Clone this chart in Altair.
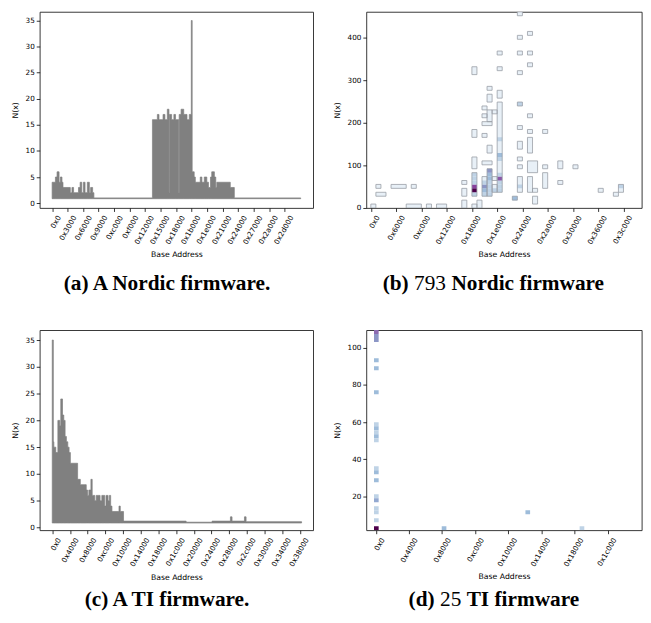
import altair as alt
import pandas as pd

FONT = "DejaVu Sans"
CAP_FONT = "Liberation Serif"

# ---------------- (a) A Nordic firmware: step profile of N(x) ----------------
a_start = [0, 2600, 3900, 5500, 6500, 7800, 8600, 14400, 15700, 17000,
           20900, 22200, 23500, 24800, 26100, 27900, 29500, 30500, 32100, 33100,
           79500, 83400, 84700, 87900, 89400, 91300, 92600, 93000, 94700, 96500,
           97800, 100300, 100700, 102200, 104300, 106900, 108700, 110300, 111000, 112600,
           113500, 117400, 118700, 120600, 122600, 123900, 125500, 126500, 128600, 129700,
           130500, 141200, 144400]
a_val = [4, 5, 6, 4, 5, 4, 3, 2, 3, 2,
         3, 4, 2, 4, 2, 4, 2, 3, 2, 1,
         16, 17, 16, 17, 16, 18, 2, 17, 16, 17,
         16, 2, 17, 18, 17, 16, 17, 35, 6, 5,
         4, 5, 4, 5, 4, 3, 5, 6, 5, 3,
         4, 3, 1]
a_end = 197000
a_xticks = [0x0, 0x3000, 0x6000, 0x9000, 0xc000, 0xf000, 0x12000, 0x15000,
            0x18000, 0x1b000, 0x1e000, 0x21000, 0x24000, 0x27000, 0x2a000, 0x2d000]
a_yticks = [0, 5, 10, 15, 20, 25, 30, 35]

# ---------------- (c) A TI firmware: step profile of N(x) ----------------
c_start = [0, 1000, 1500, 3300, 5200, 7000, 7900, 9500, 10700, 11900,
           13100, 14400, 15600, 16800, 23500, 26000, 31500, 32700, 33900, 35800,
           37000, 39400, 40700, 44300, 45900, 48600, 49800, 51700, 52900, 54100,
           55300, 61800, 63000, 66000, 124000, 148000, 165000, 166500, 178000, 179500]
c_val = [35, 16, 15, 14, 20, 19, 24, 21, 20, 17,
         16, 15, 14, 12, 9, 8, 7, 6, 7, 9,
         6, 5, 6, 5, 6, 4, 6, 5, 6, 4,
         3, 4, 3, 1.2, 1, 1.2, 2, 1.2, 2, 1.1]
c_end = 230900
c_xticks = [0x0, 0x4000, 0x8000, 0xc000, 0x10000, 0x14000, 0x18000, 0x1c000,
            0x20000, 0x24000, 0x28000, 0x2c000, 0x30000, 0x34000, 0x38000]
c_yticks = [0, 5, 10, 15, 20, 25, 30, 35]

# ---------------- (b) 793 Nordic firmware: 2-D histogram ----------------
B_BIN_X = 4915.2   # address bin width
B_BIN_Y = 9.2      # N(x) bin height
# outlined blocks of non-empty bins (bin indices, inclusive)
b_x0 = [0, 1, 1, 4, 8, 7, 11, 13, 18, 18, 18, 20, 21, 20, 20, 20, 20, 22, 22, 23,
        24, 24, 23, 22, 22, 22, 22, 23, 24, 23, 23, 25, 25, 25, 25, 28, 29, 29, 29, 29,
        29, 29, 29, 29, 29, 29, 31, 31, 31, 31, 31, 31, 31, 31, 32, 32, 34, 34, 34, 37,
        37, 40, 45, 48, 49]
b_x1 = [0, 1, 2, 6, 8, 9, 11, 14, 18, 18, 18, 20, 21, 20, 20, 20, 20, 23, 22, 23,
        24, 24, 23, 22, 22, 22, 23, 23, 24, 23, 23, 25, 25, 25, 25, 28, 29, 29, 29, 29,
        29, 29, 29, 29, 29, 29, 31, 31, 31, 31, 31, 31, 32, 31, 32, 32, 34, 34, 34, 37,
        37, 40, 45, 48, 49]
b_y0 = [0, 5, 3, 5, 5, 0, 0, 0, 0, 3, 6, 0, 0, 3, 10, 18, 34, 11, 3, 3,
        4, 7, 14, 18, 25, 23, 21, 22, 24, 27, 30, 4, 28, 35, 39, 2, 49, 43, 39, 34,
        26, 20, 15, 12, 10, 4, 44, 39, 36, 23, 19, 14, 9, 4, 4, 1, 19, 10, 5, 10,
        6, 10, 4, 3, 4]
b_y1 = [0, 5, 3, 5, 5, 0, 0, 0, 1, 4, 6, 0, 1, 8, 12, 19, 35, 11, 7, 9,
        5, 7, 15, 18, 25, 23, 21, 24, 24, 28, 30, 26, 29, 35, 39, 2, 49, 43, 39, 34,
        26, 20, 16, 12, 10, 7, 44, 39, 36, 23, 19, 17, 11, 7, 4, 2, 19, 10, 8, 11,
        6, 10, 4, 3, 5]
# bins with more than one firmware
h_x = [20, 20, 20, 20, 20, 20, 22, 22, 22, 22, 23, 23, 23, 23, 23, 23, 23, 24,
       25, 25, 25, 25, 25, 25, 25, 25, 28, 29, 29, 49]
h_y = [3, 4, 5, 6, 7, 8, 3, 4, 5, 6, 3, 4, 5, 6, 7, 8, 9, 4,
       4, 5, 6, 7, 8, 12, 13, 17, 2, 5, 26, 5]
h_n = [2, 20, 12, 2, 2, 2, 2, 3, 5, 2, 2, 2, 2, 2, 3, 3, 5, 2,
       2, 2, 2, 10, 2, 2, 3, 2, 3, 2, 2, 2]
b_xticks = [0x0, 0x6000, 0xc000, 0x12000, 0x18000, 0x1e000, 0x24000, 0x2a000,
            0x30000, 0x36000, 0x3c000]
b_yticks = [0, 100, 200, 300, 400]

# ---------------- (d) 25 TI firmware: 2-D histogram ----------------
D_BIN_X = 2300
D_BIN_Y = 2.15
D_Y0 = 1.9
d_x = [-900, -900, -900, -900, -900, -900, -900, -900, -900, -900,
       -900, -900, -900, -900, -900, -900, -900, -900, -900, -900,
       32600, 74000, 100800]
d_j = [49, 48, 47, 42, 40, 34, 26, 25, 24, 23, 22, 15, 14, 12, 8, 7, 5, 4, 2, 0,
       0, 4, 0]
d_n = [8, 5, 5, 3, 3, 3, 2, 3, 2, 3, 2, 2, 3, 3, 2, 4, 2, 2, 2, 25,
       3, 3, 2]
d_xticks = [0x0, 0x4000, 0x8000, 0xc000, 0x10000, 0x14000, 0x18000, 0x1c000]
d_yticks = [20, 40, 60, 80, 100]

# colour map (BuPu-like) for counts
cnt_dom = [1, 2, 3, 5, 8, 12, 20]
cnt_rng = ["#e8f0f7", "#bfd3e6", "#9ebcda", "#8c96c6", "#8c6bb1", "#88419d", "#4d004b"]

# ---------------- layout constants ----------------
W_L, W_R = 276, 278
H_TOP, H_BOT = 198, 202
CAP_SIZE = 21.5
TICK_SIZE = 7.3
TITLE_SIZE = 7.8


def x_axis(ticks, w, title_y):
    return alt.Axis(values=ticks, format="x", labelExpr="'0x' + datum.label",
                    labelAngle=-60, labelAlign="right", labelBaseline="middle",
                    labelOffset=7, labelPadding=4.5, labelFontSize=TICK_SIZE, labelFont=FONT,
                    labelColor="black", labelOverlap=False, labelFlush=False,
                    tickSize=3.5, tickWidth=0.8, tickColor="black", domain=False,
                    grid=False, title="Base Address", titleFont=FONT, titleFontSize=TITLE_SIZE,
                    titleFontWeight="normal", titleColor="black", titleX=w / 2,
                    titleY=title_y, titleAlign="center", titleBaseline="middle")


def y_axis(ticks, h, title_x):
    return alt.Axis(values=ticks, labelFontSize=TICK_SIZE, labelFont=FONT, labelColor="black",
                    labelPadding=2, labelOverlap=False, labelFlush=False,
                    tickSize=3.5, tickWidth=0.8, tickColor="black", domain=False,
                    grid=False, title="N(x)", titleFont=FONT, titleFontSize=TITLE_SIZE,
                    titleFontWeight="normal", titleColor="black", titleX=title_x,
                    titleY=h / 2, titleAlign="center", titleBaseline="middle")


def X(field, dom, ticks, w, ty):
    return alt.X(field, type="quantitative",
                 scale=alt.Scale(domain=dom, nice=False, zero=False),
                 axis=x_axis(ticks, w, ty))


def Y(field, dom, ticks, h, tx):
    return alt.Y(field, type="quantitative",
                 scale=alt.Scale(domain=dom, nice=False, zero=False),
                 axis=y_axis(ticks, h, tx))


def caption_layer(parts, y):
    layers = []
    for text, x, weight, align in parts:
        layers.append(
            alt.Chart(pd.DataFrame({"t": [text]})).mark_text(
                font=CAP_FONT, fontSize=CAP_SIZE, fontWeight=weight, align=align,
                baseline="middle", color="black"
            ).encode(text="t:N", x=alt.value(x), y=alt.value(y))
        )
    return layers


def step_panel(starts, vals, end, xdom, ydom, xticks, yticks, w, h, tx, ty, caps, cap_y):
    df = pd.DataFrame({"x": starts + [end], "y": vals + [vals[-1]]})
    area = alt.Chart(df).transform_calculate(base="0.85").mark_area(
        interpolate="step-after", color="#808080", stroke="#808080",
        strokeWidth=0.7, clip=True
    ).encode(x=X("x", xdom, xticks, w, ty), y=Y("y", ydom, yticks, h, tx),
             y2=alt.Y2("base:Q"))
    return alt.layer(area, *caption_layer(caps, cap_y)).properties(width=w, height=h)


# ---- (a)
pa = step_panel(a_start, a_val, a_end, [-9850, 206850], [-0.93, 36.67],
                a_xticks, a_yticks, W_L, H_TOP, -24, 47,
                [("(a) A Nordic firmware.", 128.5, "bold", "center")], 275)
# ---- (c)
pc = step_panel(c_start, c_val, c_end, [-11620, 241580], [-0.5, 36.85],
                c_xticks, c_yticks, W_L, H_BOT, -24, 48,
                [("(c) A TI firmware.", 128.5, "bold", "center")], 272)

# ---- (b)
bdf = pd.DataFrame({"x0": b_x0, "x1": b_x1, "y0": b_y0, "y1": b_y1})
hdf = pd.DataFrame({"xb": h_x, "yb": h_y, "n": h_n})
b_xdom, b_ydom = [-4400, 263500], [0, 460]
b_calc = dict(x=f"datum.x0 * {B_BIN_X}", x2=f"(datum.x1 + 1) * {B_BIN_X}",
              y=f"datum.y0 * {B_BIN_Y}", y2=f"(datum.y1 + 1) * {B_BIN_Y}")
b_enc = dict(x=X("x", b_xdom, b_xticks, W_R, 47), x2=alt.X2("x2:Q"),
             y=Y("y", b_ydom, b_yticks, H_TOP, -29), y2=alt.Y2("y2:Q"))
b_fill = alt.Chart(bdf).transform_calculate(**b_calc).mark_rect(
    fill=cnt_rng[0], strokeWidth=0, clip=True).encode(**b_enc)
b_hot = alt.Chart(hdf).transform_calculate(
    x=f"datum.xb * {B_BIN_X}", x2=f"(datum.xb + 1) * {B_BIN_X}",
    y=f"datum.yb * {B_BIN_Y}", y2=f"(datum.yb + 1) * {B_BIN_Y}"
).mark_rect(strokeWidth=0, clip=True).encode(
    color=alt.Color("n:Q", scale=alt.Scale(domain=cnt_dom, range=cnt_rng, clamp=True),
                    legend=None), **b_enc)
b_line = alt.Chart(bdf).transform_calculate(**b_calc).mark_rect(
    fillOpacity=0, stroke="#9a9ea6", strokeWidth=0.8, clip=True).encode(**b_enc)
pb = alt.layer(b_fill, b_hot, b_line,
               *caption_layer([("(b)", 16.5, "bold", "left"),
                               ("793", 48.2, "normal", "left"),
                               ("Nordic firmware", 85.9, "bold", "left")], 275)
               ).properties(width=W_R, height=H_TOP)

# ---- (d)
ddf = pd.DataFrame({"xa": d_x, "j": d_j, "n": d_n})
pd_hist = alt.Chart(ddf).transform_calculate(
    x="datum.xa", x2=f"datum.xa + {D_BIN_X}",
    y=f"{D_Y0} + datum.j * {D_BIN_Y}", y2=f"{D_Y0} + (datum.j + 1) * {D_BIN_Y}"
).mark_rect(strokeWidth=0, clip=True).encode(
    x=X("x", [-4700, 131500], d_xticks, W_R, 47), x2=alt.X2("x2:Q"),
    y=Y("y", [1.87, 109.4], d_yticks, H_BOT, -29), y2=alt.Y2("y2:Q"),
    color=alt.Color("n:Q", scale=alt.Scale(domain=cnt_dom, range=cnt_rng, clamp=True),
                    legend=None))
pdd = alt.layer(pd_hist,
                *caption_layer([("(d)", 42.7, "bold", "left"),
                                ("25", 74.4, "normal", "left"),
                                ("TI firmware", 101.3, "bold", "left")], 272)
                ).properties(width=W_R, height=H_BOT)

chart = alt.concat(pa, pb, pc, pdd, columns=2,
                   spacing={"row": 123.3, "column": 53.7}, bounds="flush"
                   ).properties(padding={"left": 3, "top": 0, "right": 0, "bottom": 0}
                   ).configure_view(stroke="#222222", strokeWidth=0.9)

chart.save("out.html", embed_options={"renderer": "svg", "actions": False})
